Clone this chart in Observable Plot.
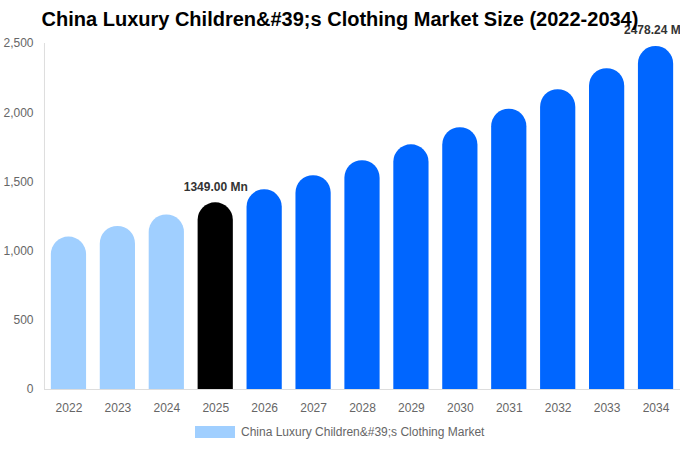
<!DOCTYPE html>
<html>
<head>
<meta charset="utf-8">
<script src="https://cdn.jsdelivr.net/npm/d3@7"></script>
<script src="https://cdn.jsdelivr.net/npm/@observablehq/plot@0.6"></script>
<style>
  html, body { margin: 0; padding: 0; background: #fff; }
  #wrap { position: relative; width: 680px; height: 450px; font-family: "Liberation Sans", Arial, sans-serif; overflow: hidden; }
  #title { position: absolute; left: 0; top: 8px; width: 680px; text-align: center; font-size: 20px; font-weight: bold; color: #000; z-index: 2; }
  #legend { position: absolute; left: 195px; top: 425px; font-size: 12px; color: #666; display: flex; align-items: center; z-index: 2; }
  #legend .sw { width: 40px; height: 12px; background: #a0cfff; margin-right: 6px; }
  #chart { position: absolute; left: 0; top: 0; }
</style>
</head>
<body>
<div id="wrap">
  <div id="title">China Luxury Children&amp;#39;s Clothing Market Size (2022-2034)</div>
  <div id="chart"></div>
  <div id="legend"><div class="sw"></div><span>China Luxury Children&amp;#39;s Clothing Market</span></div>
</div>
<script>
const years = ["2022","2023","2024","2025","2026","2027","2028","2029","2030","2031","2032","2033","2034"];
const values = [1101, 1178, 1261, 1349, 1443, 1545, 1653, 1768, 1892, 2025, 2166, 2318, 2478.24];
const barColors = ["#a0cfff","#a0cfff","#a0cfff","#000000","#0066ff","#0066ff","#0066ff","#0066ff","#0066ff","#0066ff","#0066ff","#0066ff","#0066ff"];
const yTicks = [0, 500, 1000, 1500, 2000, 2500];
const labelled = ["2025", "2034"];

const data = years.map((y, i) => ({year: y, value: values[i], color: barColors[i]}));
const labels = data.filter(d => labelled.includes(d.year));

const chart = Plot.plot({
  width: 680,
  height: 450,
  marginTop: 43,
  marginBottom: 61,
  marginLeft: 44,
  marginRight: 0,
  style: {fontFamily: "Liberation Sans, Arial, sans-serif", fontSize: "12px", color: "#666", background: "transparent", overflow: "visible"},
  x: {domain: years, paddingInner: 0.28, paddingOuter: 0.14, round: false, label: null, tickSize: 0, tickPadding: 14},
  y: {domain: [0, 2500], ticks: yTicks, tickFormat: d3.format(","), label: null, tickSize: 0, tickPadding: 11},
  marks: [
    // bottom of each rounded bar extends below the baseline and is clipped, so only the top is rounded
    Plot.barY(data, {x: "year", y1: -200, y2: "value", fill: "color", rx: 17.5, clip: true}),
    Plot.ruleY([0], {stroke: "#ddd"}),
    Plot.ruleX([0], {x: () => years[0], stroke: "#ddd", y1: 0, y2: 2500, dx: -24.5}),
    Plot.text(labels, {x: "year", y: "value", text: d => d.value.toFixed(2) + " Mn", dy: -16, fontWeight: "bold", fontSize: 12, fill: "#333"})
  ]
});
document.getElementById("chart").appendChild(chart);
</script>
</body>
</html>
